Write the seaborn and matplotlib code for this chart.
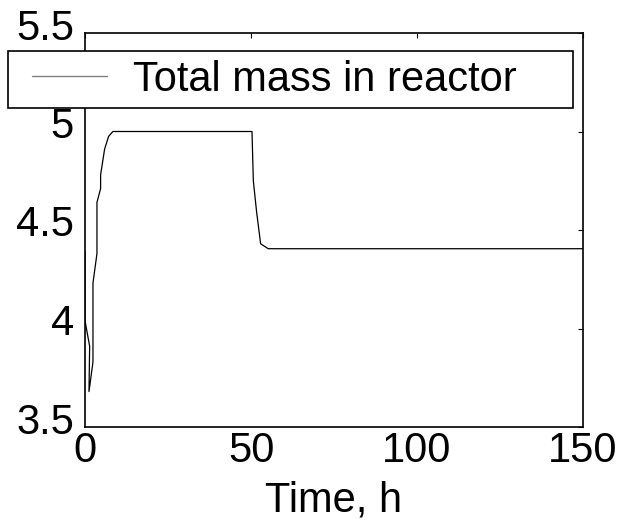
import matplotlib
matplotlib.use("Agg")
import matplotlib.pyplot as plt
from matplotlib.transforms import ScaledTranslation
import pandas as pd
import seaborn as sns

# Reactor mass history
time_h = [0, 0, 1.4, 1.2, 2.4, 2.4, 3.6, 3.6, 4.7, 4.7, 5.9, 7.1, 8.4,
          50.3, 50.7, 51.7, 52.9, 55.2, 150]
mass = [4.39, 4.04, 3.91, 3.68, 3.83, 4.23, 4.38, 4.64, 4.71, 4.78, 4.91, 4.975, 5.0,
        5.0, 4.75, 4.59, 4.43, 4.405, 4.405]

x_ticks = [0, 50, 100, 150]
x_tick_labels = ["0", "50", "100", "150"]
y_ticks = [3.5, 4.0, 4.5, 5.0, 5.5]
y_tick_labels = ["3.5", "4", "4.5", "5", "5.5"]
series_name = "Total mass in reactor"
x_label = "Time, h"

sns.set_theme(style="white")
plt.rcParams["font.family"] = ["Liberation Sans", "DejaVu Sans"]
plt.rcParams["font.size"] = 30
plt.rcParams["text.color"] = "black"
plt.rcParams["axes.labelcolor"] = "black"
plt.rcParams["xtick.color"] = "black"
plt.rcParams["ytick.color"] = "black"

df = pd.DataFrame({"time": time_h, "mass": mass})

fig = plt.figure(figsize=(6.25, 5.23), dpi=100)
ax = fig.add_axes([85 / 625, 1 - 427 / 523, (583 - 85) / 625, (427 - 33) / 523])

sns.lineplot(data=df, x="time", y="mass", sort=False, estimator=None,
             color="black", linewidth=0.9, label=series_name, ax=ax)

ax.set_xlim(0, 150)
ax.set_ylim(3.5, 5.5)
ax.set_xticks(x_ticks)
ax.set_xticklabels(x_tick_labels)
ax.set_yticks(y_ticks)
ax.set_yticklabels(y_tick_labels)
ax.set_xlabel(x_label, fontsize=30, labelpad=7, color="black")
ax.set_ylabel("")

ax.tick_params(direction="in", top=True, right=True, length=3.6, width=0.8,
               color="black", labelcolor="black", labelsize=30)
ax.tick_params(axis="x", pad=3)
ax.tick_params(axis="y", pad=8)
for sp in ax.spines.values():
    sp.set_color("black")
    sp.set_linewidth(1.2)

# y tick labels sit slightly above their ticks
shift = ScaledTranslation(0, 9 / 100, fig.dpi_scale_trans)
for lab in ax.get_yticklabels():
    lab.set_transform(lab.get_transform() + shift)

leg = ax.legend(loc="lower left",
                bbox_to_anchor=(8 / 625, 1 - 108 / 523, (573 - 8) / 625, (108 - 49) / 523),
                bbox_transform=fig.transFigure, mode="expand", borderaxespad=0,
                borderpad=0.2, handlelength=1.8, handletextpad=1.0,
                fancybox=False, framealpha=1, fontsize=30)
frame = leg.get_frame()
frame.set_edgecolor("black")
frame.set_linewidth(1.2)
for t in leg.get_texts():
    t.set_color("black")
hline = leg.get_lines()[0]
hline.set_color("0.5")
hline.set_linewidth(1.0)
hline.set_xdata([v + 11.5 for v in hline.get_xdata()])

fig.savefig("out.png", dpi=100)
